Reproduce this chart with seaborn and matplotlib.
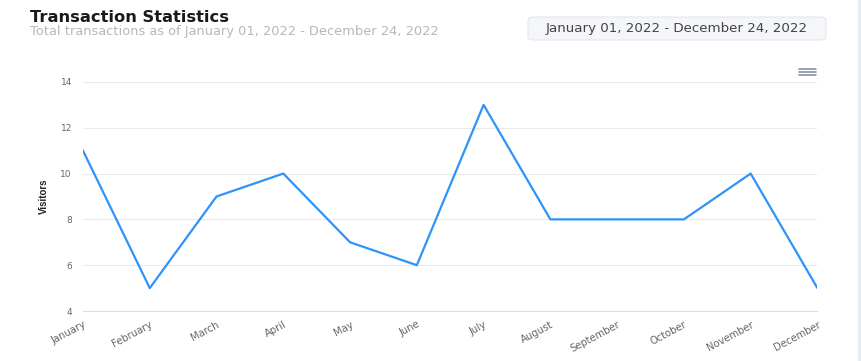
import pandas as pd
import matplotlib.pyplot as plt
import seaborn as sns
from matplotlib.patches import FancyBboxPatch

# chart data
months = ['January', 'February', 'March', 'April', 'May', 'June', 'July',
          'August', 'September', 'October', 'November', 'December']
visitors = [11, 5, 9, 10, 7, 6, 13, 8, 8, 8, 10, 5]
y_ticks = [4, 6, 8, 10, 12, 14]

df = pd.DataFrame({'month': months, 'visitors': visitors})

sns.set_style('white')
plt.rcParams['font.family'] = ['DejaVu Sans']

fig = plt.figure(figsize=(8.61, 3.61), dpi=100)
ax = fig.add_axes([0.0964, 0.1385, 0.853, 0.6345])

sns.lineplot(data=df, x='month', y='visitors', sort=False, ax=ax,
             color='#2E93FA', linewidth=1.6)

ax.set_ylim(4, 14)
ax.set_xlim(0, len(months) - 1)
ax.set_yticks(y_ticks)
ax.set_xticks(range(len(months)))
ax.set_xticklabels(months, rotation=28, ha='right', rotation_mode='anchor',
                   fontsize=7.2, color='#666666')
ax.tick_params(axis='y', labelsize=6.5, labelcolor='#666666', length=0, pad=8)
ax.tick_params(axis='x', length=4, color='#dddddd', pad=2)
ax.grid(axis='y', color='#eaeaea', linewidth=0.8)
for s in ['left', 'right', 'top']:
    ax.spines[s].set_visible(False)
ax.spines['bottom'].set_color('#dddddd')
ax.set_xlabel('')
ax.set_ylabel('Visitors', fontsize=7, fontweight='bold', color='#222222',
              family='Liberation Sans', labelpad=8)

# header texts
fig.text(30 / 861, 1 - 18 / 361, 'Transaction Statistics', fontsize=11.7,
         fontweight='bold', color='#1a1a1a', va='center')
fig.text(30 / 861, 1 - 32 / 361,
         'Total transactions as of January 01, 2022 - December 24, 2022',
         fontsize=9.4, color='#b8b8b8', va='center')

# date range box
box = FancyBboxPatch((528 / 861, 1 - 40 / 361), 298 / 861, 23 / 361,
                     boxstyle='round,pad=0,rounding_size=0.008',
                     transform=fig.transFigure, facecolor='#f4f6f9',
                     edgecolor='#e3e6ea', linewidth=0.8)
fig.patches.append(box)
fig.text(677 / 861, 1 - 28.5 / 361, 'January 01, 2022 - December 24, 2022',
         fontsize=9.6, color='#444444', ha='center', va='center')

# menu icon
for yy in [69, 72, 75]:
    fig.add_artist(plt.Line2D([799 / 861, 816 / 861], [1 - yy / 361, 1 - yy / 361],
                              transform=fig.transFigure, color='#7a8a9a', linewidth=1.1))

# right edge strip
fig.add_artist(plt.Line2D([858.5 / 861, 858.5 / 861], [0, 1],
                          transform=fig.transFigure, color='#e6ebf0', linewidth=2))

plt.savefig('out.png', dpi=100)
